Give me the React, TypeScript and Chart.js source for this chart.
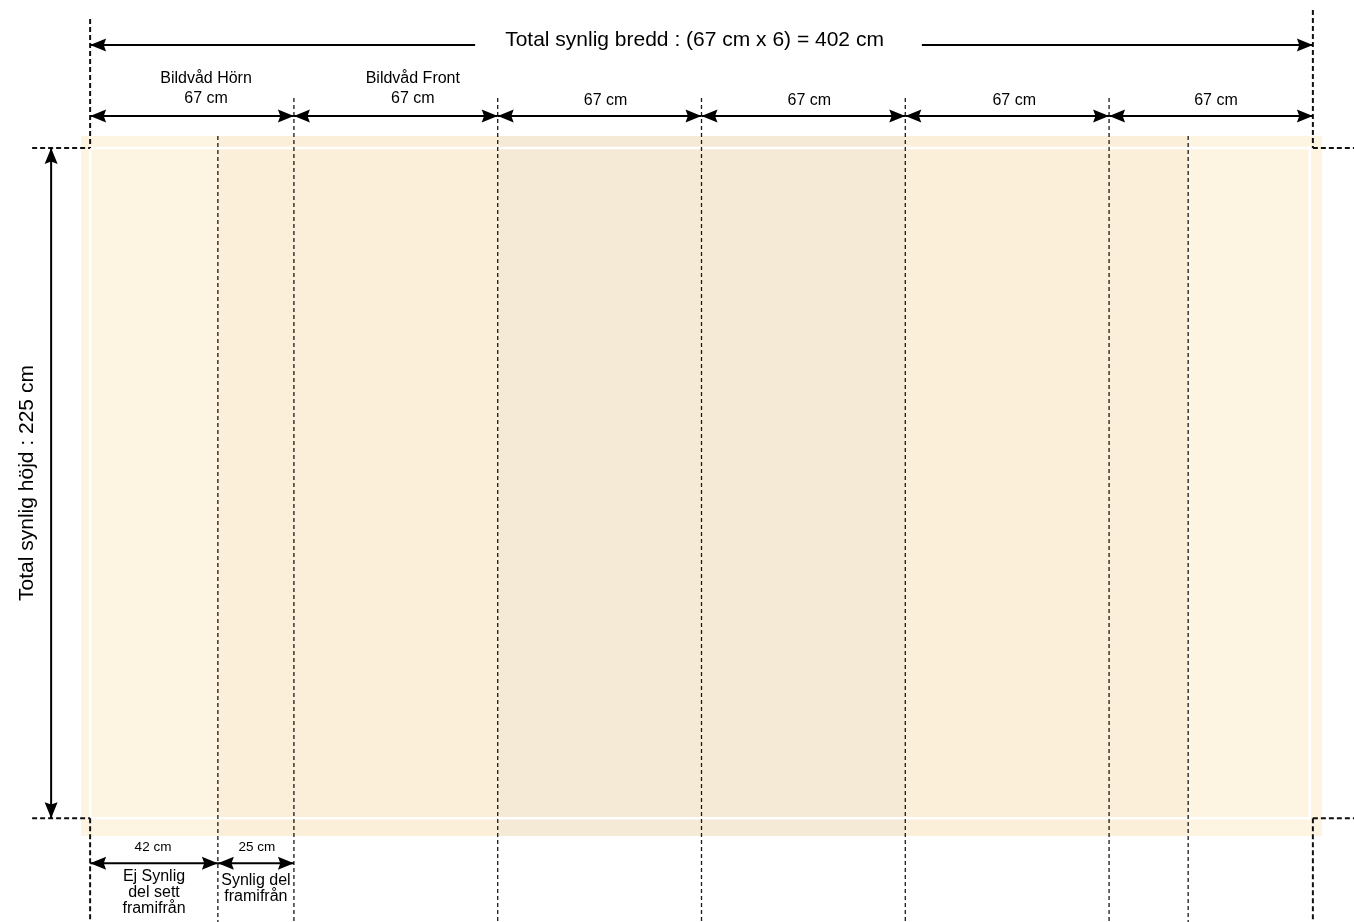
import React, { useEffect, useRef } from "react";
import { Chart, registerables } from "chart.js";

Chart.register(...registerables);

// ---- data (cm) ----
const totalWidthCm = 402;
const totalHeightCm = 225;
const panelEdges = [0, 67, 134, 201, 268, 335, 402];
const panelLabels = [
  ["Bildvåd Hörn", "67 cm"],
  ["Bildvåd Front", "67 cm"],
  ["67 cm"],
  ["67 cm"],
  ["67 cm"],
  ["67 cm"],
];
const foldLines = [42, 361];
const splitEdges = [0, 42, 67];
const splitLabels = ["42 cm", "25 cm"];
const splitCaptions = [
  ["Ej Synlig", "del sett", "framifrån"],
  ["Synlig del", "framifrån"],
];
const bandEdges = [-3, 42, 134, 268, 361, 405];
const bandShades = [0, 1, 2, 1, 0];
const bleedTop = 229;
const bleedBottom = -6;
const widthTitle = "Total synlig bredd : (67 cm x 6) = 402 cm";
const heightTitle = "Total synlig höjd : 225 cm";

// ---- styles ----
const shadeColors = ["#FDF4E2", "#FCEFD9", "#F5EAD5"];
const FONT = '"Liberation Sans", Arial, Helvetica, sans-serif';
const labelOffsets = [14, 17, 6, 6, 7, 5];

function dashed(ctx: CanvasRenderingContext2D, x1: number, y1: number, x2: number, y2: number, w: number, color: string, dash: number[]) {
  ctx.save();
  ctx.strokeStyle = color;
  ctx.lineWidth = w;
  ctx.setLineDash(dash);
  ctx.beginPath();
  ctx.moveTo(x1, y1);
  ctx.lineTo(x2, y2);
  ctx.stroke();
  ctx.restore();
}

function head(ctx: CanvasRenderingContext2D, tx: number, ty: number, dx: number, dy: number, len = 16, half = 6.5) {
  const px = -dy, py = dx;
  const bx = tx - dx * len, by = ty - dy * len;
  const nx = tx - dx * len * 0.85, ny = ty - dy * len * 0.85;
  ctx.beginPath();
  ctx.moveTo(tx, ty);
  ctx.lineTo(bx + px * half, by + py * half);
  ctx.lineTo(nx, ny);
  ctx.lineTo(bx - px * half, by - py * half);
  ctx.closePath();
  ctx.fill();
}

function arrow(ctx: CanvasRenderingContext2D, x1: number, y1: number, x2: number, y2: number, startHead: boolean, endHead: boolean) {
  ctx.save();
  ctx.strokeStyle = "#000";
  ctx.fillStyle = "#000";
  ctx.lineWidth = 2;
  ctx.beginPath();
  ctx.moveTo(x1, y1);
  ctx.lineTo(x2, y2);
  ctx.stroke();
  const L = Math.hypot(x2 - x1, y2 - y1) || 1;
  const ux = (x2 - x1) / L, uy = (y2 - y1) / L;
  if (endHead) head(ctx, x2, y2, ux, uy);
  if (startHead) head(ctx, x1, y1, -ux, -uy);
  ctx.restore();
}

function text(ctx: CanvasRenderingContext2D, s: string, x: number, y: number, size: number) {
  ctx.save();
  ctx.fillStyle = "#000";
  ctx.font = `${size}px ${FONT}`;
  ctx.textAlign = "center";
  ctx.textBaseline = "middle";
  ctx.fillText(s, x, y);
  ctx.restore();
}

const overlayPlugin = {
  id: "overlay",
  afterDraw(chart: any) {
    const ctx: CanvasRenderingContext2D = chart.ctx;
    const xs = chart.scales.x;
    const ys = chart.scales.y;
    const X = (v: number) => xs.getPixelForValue(v);
    const Y = (v: number) => ys.getPixelForValue(v);
    const W = chart.width;
    const H = chart.height;
    const left = X(0);
    const right = X(totalWidthCm);
    const top = Y(totalHeightCm);
    const bottom = Y(0);
    const bleedT = Y(bleedTop);

    // outer dashed corner markers
    const thick = [5, 3];
    dashed(ctx, left, top - 129, left, top, 2, "#111", thick);
    dashed(ctx, right, top - 138, right, top, 2, "#111", thick);
    dashed(ctx, left - 58, top, left, top, 2, "#111", thick);
    dashed(ctx, left - 58, bottom, left, bottom, 2, "#111", thick);
    dashed(ctx, right, top, W, top, 2, "#111", thick);
    dashed(ctx, right, bottom, W, bottom, 2, "#111", thick);
    dashed(ctx, left, bottom, left, H, 2, "#111", thick);
    dashed(ctx, right, bottom, right, H, 2, "#111", thick);

    // interior panel boundaries
    const thin = [4, 3];
    for (let i = 1; i < panelEdges.length - 1; i++) {
      const px = X(panelEdges[i]);
      dashed(ctx, px, top - 50, px, H, 1.3, "#1a1a1a", thin);
    }
    foldLines.forEach((f) => {
      const px = X(f);
      dashed(ctx, px, bleedT, px, H, 1.3, "#1a1a1a", thin);
    });

    // total width title + arrow
    ctx.save();
    ctx.font = `21px ${FONT}`;
    const tw = ctx.measureText(widthTitle).width;
    ctx.restore();
    const tcx = X(totalWidthCm / 2) - 7;
    const ty = top - 108;
    text(ctx, widthTitle, tcx, ty, 21);
    arrow(ctx, tcx - tw / 2 - 30, top - 103, left, top - 103, false, true);
    arrow(ctx, tcx + tw / 2 + 38, top - 103, right, top - 103, false, true);

    // panel arrows + labels
    for (let i = 0; i < panelEdges.length - 1; i++) {
      const a = X(panelEdges[i]);
      const b = X(panelEdges[i + 1]);
      arrow(ctx, a, top - 32, b, top - 32, true, true);
      const cx = (a + b) / 2 + labelOffsets[i];
      const lines = panelLabels[i];
      if (lines.length === 2) {
        text(ctx, lines[0], cx, top - 69, 16);
        text(ctx, lines[1], cx, top - 49, 16);
      } else {
        text(ctx, lines[0], cx, top - 47, 16);
      }
    }

    // total height arrow + rotated text
    arrow(ctx, left - 39, top, left - 39, bottom, true, true);
    ctx.save();
    ctx.translate(left - 63, (top + bottom) / 2);
    ctx.rotate(-Math.PI / 2);
    text(ctx, heightTitle, 0, 0, 21);
    ctx.restore();

    // bottom split arrows and captions
    for (let i = 0; i < splitEdges.length - 1; i++) {
      const a = X(splitEdges[i]);
      const b = X(splitEdges[i + 1]);
      const cx = (a + b) / 2;
      text(ctx, splitLabels[i], cx + (i === 0 ? -1 : 1), bottom + 29, 13.5);
      arrow(ctx, a, bottom + 45, b, bottom + 45, true, true);
      const cap = splitCaptions[i];
      const y0 = i === 0 ? bottom + 58 : bottom + 62;
      cap.forEach((s, k) => text(ctx, s, cx, y0 + k * 16, 16));
    }
  },
};

export default function App() {
  const ref = useRef<HTMLCanvasElement | null>(null);

  useEffect(() => {
    if (!ref.current) return;
    const bandSets = bandShades.map((shade, i) => ({
      type: "line" as const,
      order: 1,
      data: [
        { x: bandEdges[i], y: bleedTop },
        { x: bandEdges[i + 1], y: bleedTop },
      ],
      fill: { value: bleedBottom },
      backgroundColor: shadeColors[shade],
      borderColor: "rgba(0,0,0,0)",
      borderWidth: 0,
      pointRadius: 0,
    }));
    const outline = {
      type: "line" as const,
      order: -1,
      data: [
        { x: 0, y: totalHeightCm },
        { x: totalWidthCm - 1, y: totalHeightCm },
        { x: totalWidthCm - 1, y: 0 },
        { x: 0, y: 0 },
        { x: 0, y: totalHeightCm },
      ],
      fill: false,
      borderColor: "#FFFFFF",
      borderWidth: 2.5,
      pointRadius: 0,
      tension: 0,
    };
    const chart = new Chart(ref.current, {
      type: "line",
      data: { datasets: [...bandSets, outline] as any },
      options: {
        responsive: false,
        maintainAspectRatio: false,
        animation: false,
        events: [],
        parsing: false as any,
        layout: { padding: { left: 81, right: 32, top: 136, bottom: 86 } },
        scales: {
          x: { type: "linear", min: bandEdges[0], max: bandEdges[bandEdges.length - 1], display: false },
          y: { type: "linear", min: bleedBottom, max: bleedTop, display: false },
        },
        plugins: {
          legend: { display: false },
          tooltip: { enabled: false },
          title: { display: false },
        },
      },
      plugins: [overlayPlugin],
    });
    return () => chart.destroy();
  }, []);

  return (
    <div style={{ position: "absolute", left: 0, top: 0, width: 1354, height: 922, background: "#fff" }}>
      <canvas ref={ref} width={1354} height={922} style={{ display: "block" }} />
    </div>
  );
}
